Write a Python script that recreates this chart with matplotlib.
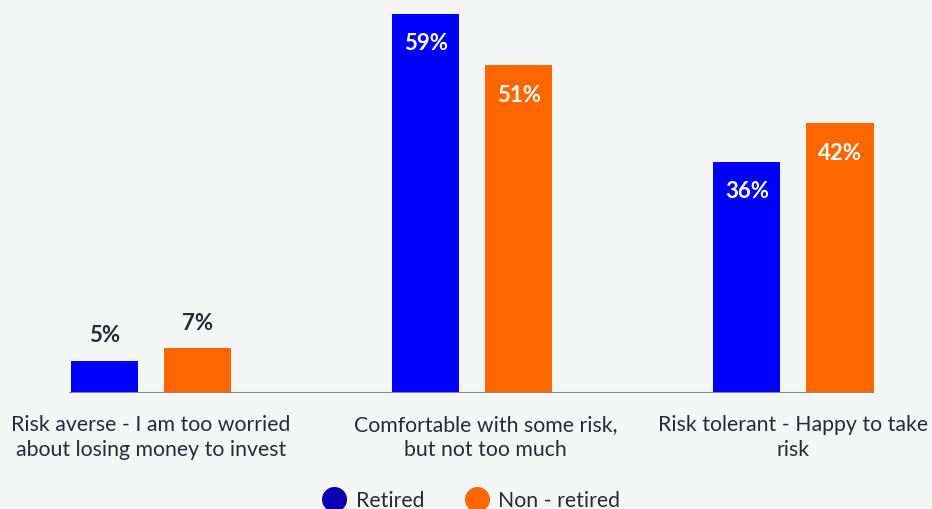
"""Grouped bar chart: attitude to investment risk, retired vs non-retired."""

import matplotlib.pyplot as plt
import matplotlib.transforms as mtransforms
import numpy as np
from matplotlib.lines import Line2D

categories = [
    "Risk averse - I am too worried\nabout losing money to invest",
    "Comfortable with some risk,\nbut not too much",
    "Risk tolerant - Happy to take\nrisk",
]
series_names = ["Retired", "Non - retired"]
retired = [5, 59, 36]
non_retired = [7, 51, 42]

BG = "#f4f6f5"
BLUE = "#0000ff"
BLUE_DARK = "#0a00b0"
ORANGE = "#ff6600"
TEXT = "#272b36"

plt.rcParams["font.family"] = ["Lato", "DejaVu Sans"]

fig = plt.figure(figsize=(9.32, 5.10), dpi=100, facecolor=BG)
ax = fig.add_axes([69 / 932, (510 - 394) / 510, (874 - 69) / 932, 394 / 510])
ax.set_facecolor(BG)

x = np.arange(len(categories))
width = 0.2087
offset = 0.1449
inside_cutoff = 20

for vals, color, sign in ((retired, BLUE, -1), (non_retired, ORANGE, 1)):
    bars = ax.bar(x + sign * offset, vals, width, color=color, zorder=2)
    for bar, v in zip(bars, vals):
        cx = bar.get_x() + bar.get_width() / 2
        if v >= inside_cutoff:
            ax.annotate(f"{v}%", (cx, v), xytext=(0, -29), textcoords="offset pixels",
                        ha="center", va="center", color="white", fontsize=16,
                        fontweight="bold")
        else:
            ax.annotate(f"{v}%", (cx, v), xytext=(0, 26), textcoords="offset pixels",
                        ha="center", va="center", color=TEXT, fontsize=16,
                        fontweight="bold")

ax.set_xlim(-0.2555, 2.2508)
ax.set_ylim(0, 61.3)
ax.axhline(0, color="#888888", linewidth=2.2, zorder=3)
for s in ax.spines.values():
    s.set_visible(False)
ax.set_yticks([])
ax.set_xticks(x)
ax.set_xticklabels(categories, fontsize=15.3, color=TEXT, linespacing=1.3)
ax.tick_params(axis="x", length=0, pad=15)
# middle label sits a little right of its group
mid = ax.get_xticklabels()[1]
mid.set_transform(mid.get_transform() + mtransforms.ScaledTranslation(13 / 100, 0, fig.dpi_scale_trans))

handles = [
    Line2D([], [], marker="o", linestyle="none", markersize=17, color=BLUE_DARK),
    Line2D([], [], marker="o", linestyle="none", markersize=17, color=ORANGE),
]
fig.legend(handles, series_names, loc="center", bbox_to_anchor=(470 / 932, 1 - 501 / 510),
           ncol=2, frameon=False, fontsize=15.3, labelcolor=TEXT, handletextpad=0.3,
           columnspacing=1.8, handlelength=1.4)

fig.savefig("out.png", dpi=100, facecolor=BG)
